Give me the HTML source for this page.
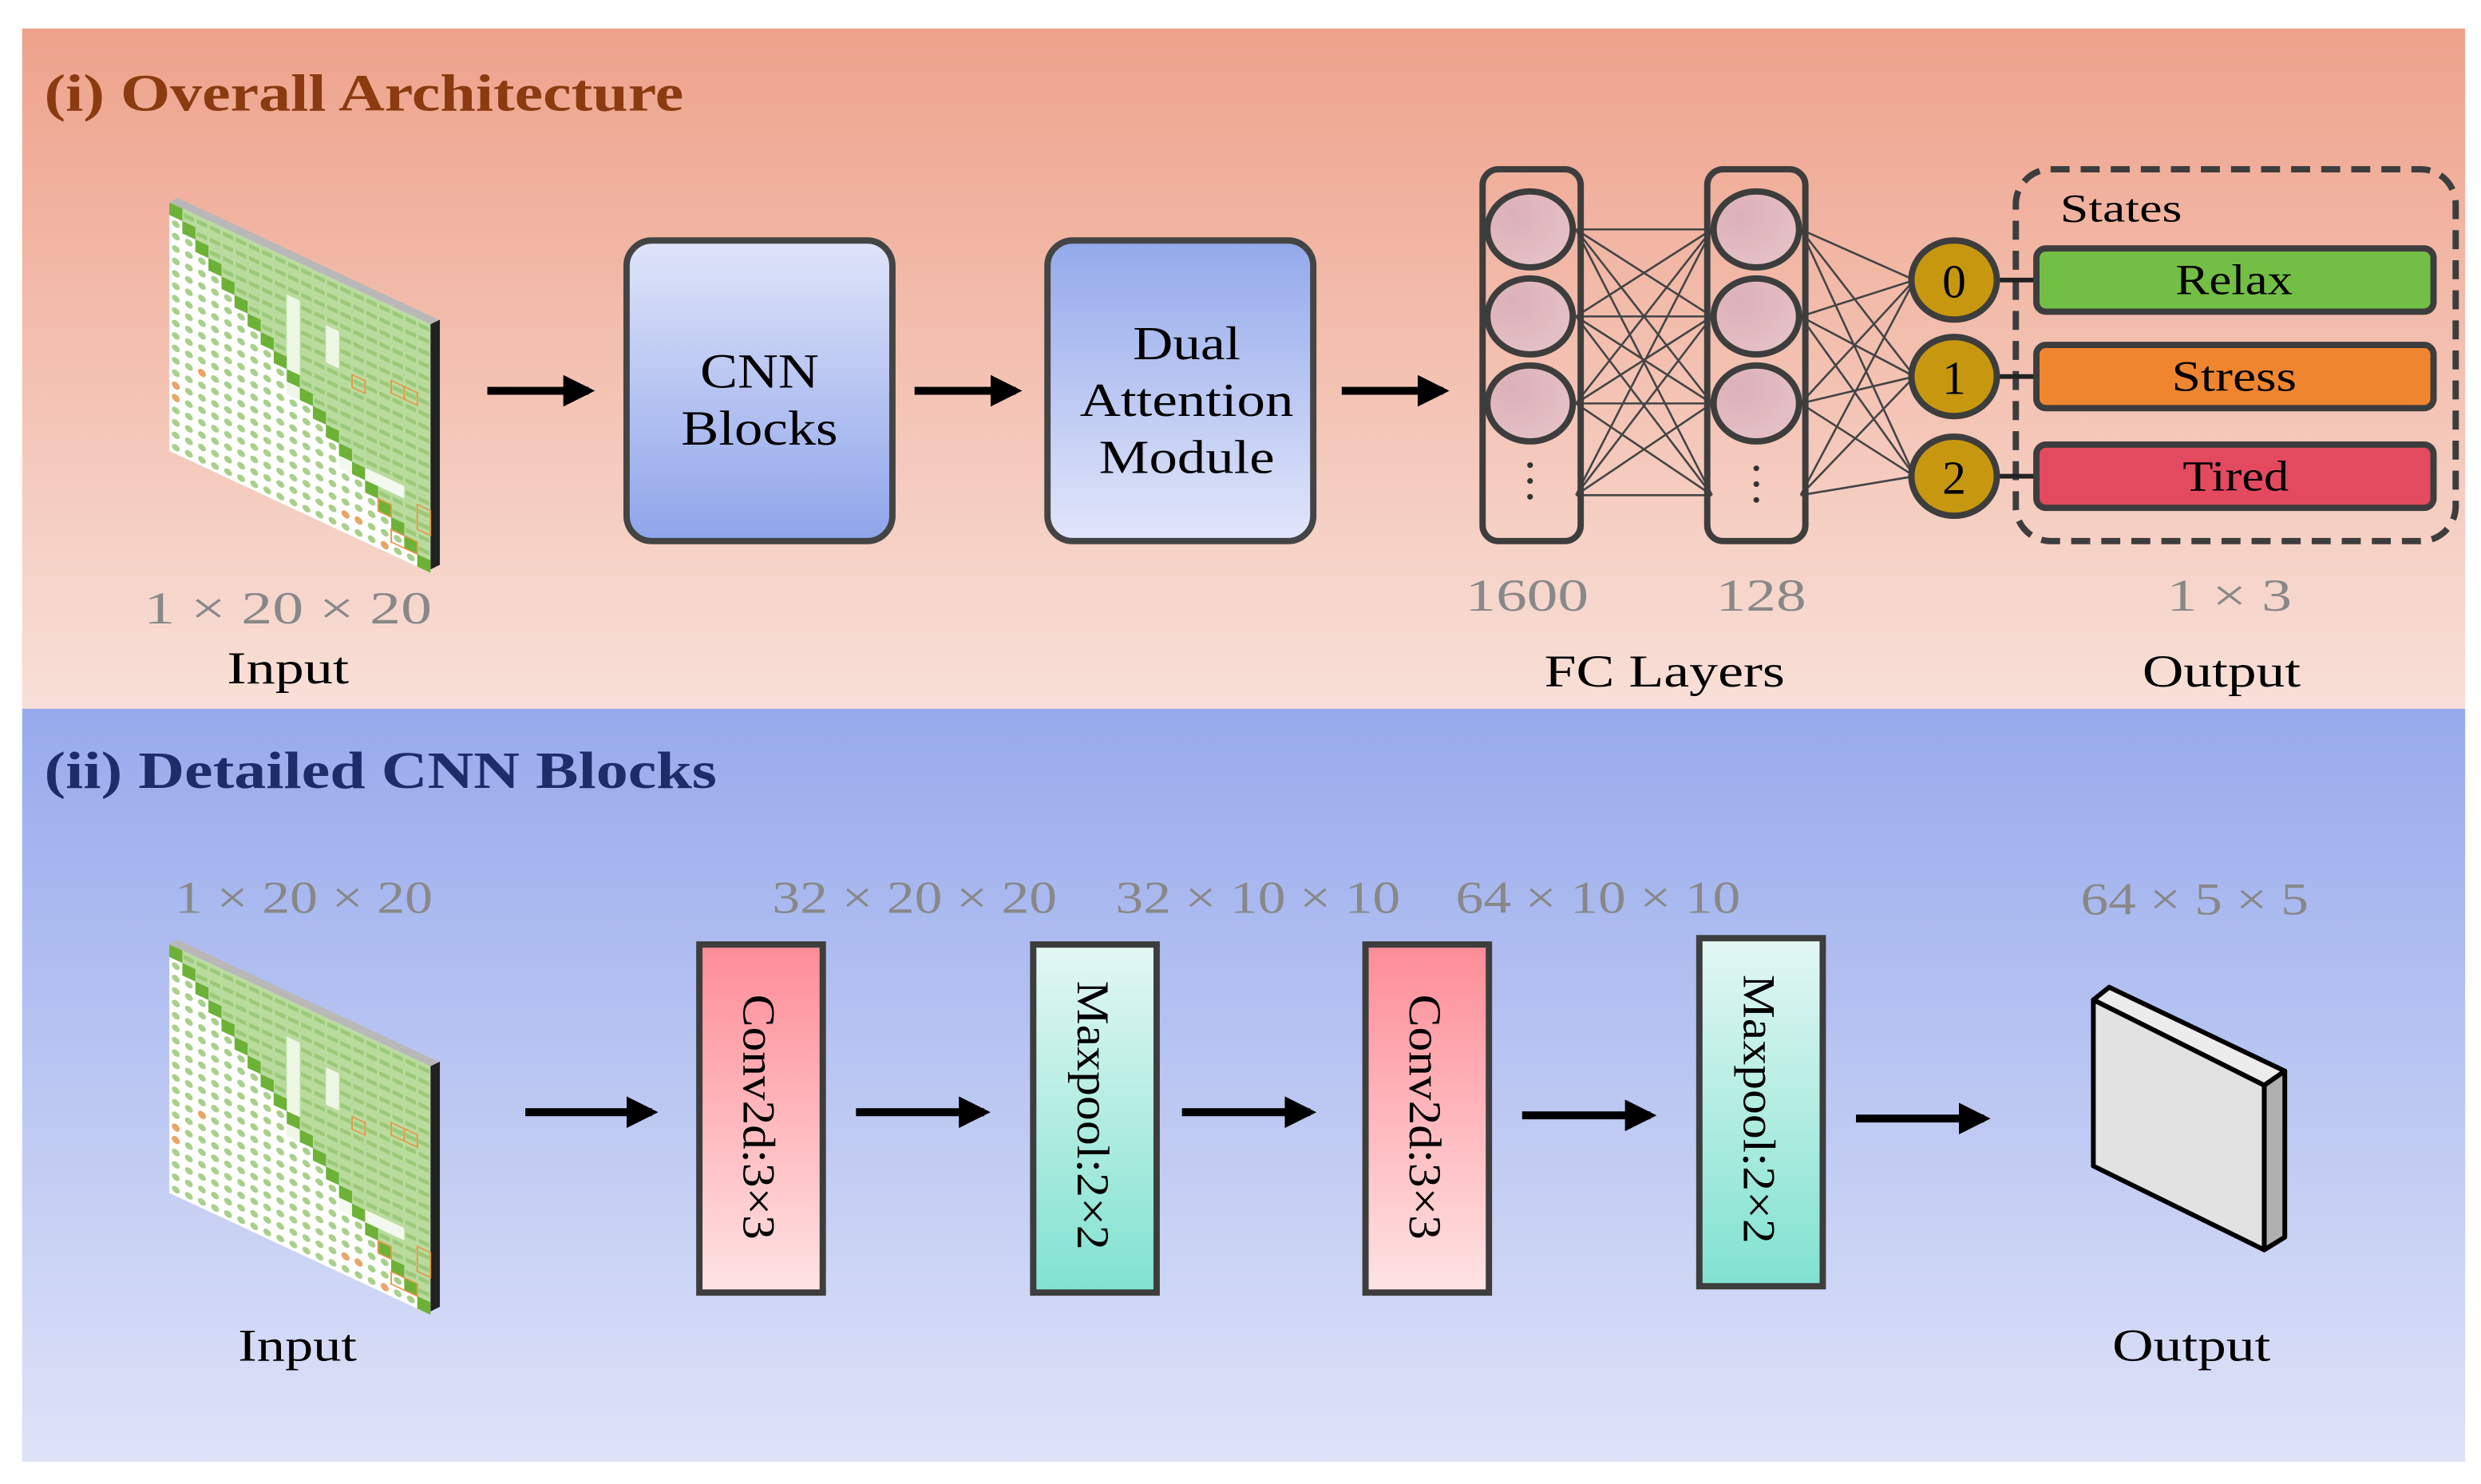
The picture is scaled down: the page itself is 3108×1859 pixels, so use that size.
<!DOCTYPE html>
<html><head><meta charset="utf-8"><style>html,body{margin:0;padding:0;background:#fff}svg{display:block}</style></head>
<body>
<svg width="3108" height="1859" viewBox="0 0 1568 938" preserveAspectRatio="none" xmlns="http://www.w3.org/2000/svg" font-family="'Liberation Serif', serif">
<defs>
<linearGradient id="gTop" x1="0" y1="0" x2="0" y2="1"><stop offset="0" stop-color="#eea28b"/><stop offset="1" stop-color="#f8e0d8"/></linearGradient>
<linearGradient id="gBot" x1="0" y1="0" x2="0" y2="1"><stop offset="0" stop-color="#97aaec"/><stop offset="1" stop-color="#dfe3f8"/></linearGradient>
<linearGradient id="gCnn" x1="0" y1="0" x2="0" y2="1"><stop offset="0" stop-color="#dfe4f9"/><stop offset="1" stop-color="#8fa5ea"/></linearGradient>
<linearGradient id="gDual" x1="0" y1="0" x2="0" y2="1"><stop offset="0" stop-color="#93a9ea"/><stop offset="1" stop-color="#e2e6fa"/></linearGradient>
<linearGradient id="gConv" x1="0" y1="0" x2="0" y2="1"><stop offset="0" stop-color="#fd8c96"/><stop offset="1" stop-color="#fee4e4"/></linearGradient>
<linearGradient id="gPool" x1="0" y1="0" x2="0" y2="1"><stop offset="0" stop-color="#e3f7f3"/><stop offset="1" stop-color="#80e2d0"/></linearGradient>
<radialGradient id="gNode" cx="0.3" cy="0.3" r="0.9"><stop offset="0" stop-color="#dcb0b8"/><stop offset="1" stop-color="#e6c4c8"/></radialGradient>
<pattern id="dots" width="1" height="1" patternUnits="userSpaceOnUse"><rect width="1" height="1" fill="#fff"/><ellipse cx="0.5" cy="0.5" rx="0.3" ry="0.27" fill="#a8d08a"/></pattern>
<pattern id="cells" width="1" height="1" patternUnits="userSpaceOnUse"><rect width="1" height="1" fill="#b9dc9e"/><rect x="0.1" y="0.3" width="0.8" height="0.35" fill="#8fc16a" opacity="0.7"/></pattern>
<g id="mat">
 <polygon points="0,0 165,77 170,74 5,-3" fill="#b8b8b8"/>
 <polygon points="165,77 171,74 171,229 165,232" fill="#222"/>
 <g transform="matrix(8.25,3.85,0,7.85,0,0)">
  <rect width="20" height="20" fill="url(#dots)"/>
  <polygon points="0,0 20,0 20,20 19,20 19,19 18,19 18,18 17,18 17,17 16,17 16,16 15,16 15,15 14,15 14,14 13,14 13,13 12,13 12,12 11,12 11,11 10,11 10,10 9,10 9,9 8,9 8,8 7,8 7,7 6,7 6,6 5,6 5,5 4,5 4,4 3,4 3,3 2,3 2,2 1,2 1,1 0,1" fill="url(#cells)"/>
  <rect x="9" y="3" width="1" height="8" fill="#eef6e6"/>
  <rect x="12" y="4" width="1" height="3" fill="#eef6e6"/>
  <rect x="13" y="14" width="5" height="1" fill="#f3f9ee"/>
  <g fill="#6db237">
   <rect x="0" y="0" width="1" height="1"/><rect x="1" y="1" width="1" height="1"/><rect x="2" y="2" width="1" height="1"/><rect x="3" y="3" width="1" height="1"/><rect x="4" y="4" width="1" height="1"/><rect x="5" y="5" width="1" height="1"/><rect x="6" y="6" width="1" height="1"/><rect x="7" y="7" width="1" height="1"/><rect x="8" y="8" width="1" height="1"/><rect x="9" y="9" width="1" height="1"/><rect x="10" y="10" width="1" height="1"/><rect x="11" y="11" width="1" height="1"/><rect x="12" y="12" width="1" height="1"/><rect x="13" y="13" width="1" height="1"/><rect x="14" y="14" width="1" height="1"/><rect x="15" y="15" width="1" height="1"/><rect x="16" y="16" width="1" height="1"/><rect x="17" y="17" width="1" height="1"/><rect x="18" y="18" width="1" height="1"/><rect x="19" y="19" width="1" height="1"/>
  </g>
  <g fill="none" stroke="#e59a4a" stroke-width="0.12">
   <rect x="14" y="7" width="1" height="1"/><rect x="17" y="6" width="1" height="1"/><rect x="18" y="6" width="1" height="1"/><rect x="16" y="16" width="1" height="1"/><rect x="19" y="15" width="1" height="2"/><rect x="17" y="18" width="2" height="1"/>
  </g>
  <g fill="#eaa566"><circle cx="0.5" cy="14.5" r="0.3"/><circle cx="0.5" cy="15.5" r="0.3"/><circle cx="2.5" cy="12.5" r="0.3"/><circle cx="13.5" cy="18.5" r="0.3"/><circle cx="14.5" cy="18.5" r="0.3"/><circle cx="16.5" cy="19.5" r="0.3"/></g>
 </g>
</g>
<marker id="ah" markerWidth="4" markerHeight="4" refX="3.2" refY="2" orient="auto" markerUnits="strokeWidth"><path d="M0,0 L4,2 L0,4 Z" fill="#000"/></marker>
</defs>

<rect x="14" y="18" width="1544" height="430" fill="url(#gTop)"/>
<rect x="14" y="448" width="1544" height="476" fill="url(#gBot)"/>

<text x="28" y="70" font-size="33" font-weight="bold" fill="#8a3b10" textLength="404" lengthAdjust="spacingAndGlyphs">(i) Overall Architecture</text>
<text x="28" y="498" font-size="33" font-weight="bold" fill="#1c2d6a" textLength="425" lengthAdjust="spacingAndGlyphs">(ii) Detailed CNN Blocks</text>

<use href="#mat" x="107" y="128"/>
<use href="#mat" x="107" y="597"/>

<g font-size="29" fill="#888" text-anchor="middle" lengthAdjust="spacingAndGlyphs">
<text x="182" y="394" textLength="182" lengthAdjust="spacingAndGlyphs">1 × 20 × 20</text>
<text x="965" y="386" textLength="78" lengthAdjust="spacingAndGlyphs">1600</text>
<text x="1113" y="386" textLength="57" lengthAdjust="spacingAndGlyphs">128</text>
<text x="1409" y="386" textLength="79" lengthAdjust="spacingAndGlyphs">1 × 3</text>
<text x="192" y="577" textLength="163" lengthAdjust="spacingAndGlyphs">1 × 20 × 20</text>
<text x="578" y="577" textLength="180" lengthAdjust="spacingAndGlyphs">32 × 20 × 20</text>
<text x="795" y="577" textLength="180" lengthAdjust="spacingAndGlyphs">32 × 10 × 10</text>
<text x="1010" y="577" textLength="180" lengthAdjust="spacingAndGlyphs">64 × 10 × 10</text>
<text x="1387" y="578" textLength="144" lengthAdjust="spacingAndGlyphs">64 × 5 × 5</text>
</g>
<g font-size="29" fill="#000" text-anchor="middle">
<text x="182" y="432" textLength="77" lengthAdjust="spacingAndGlyphs">Input</text>
<text x="1052" y="434" textLength="152" lengthAdjust="spacingAndGlyphs">FC Layers</text>
<text x="1404" y="434" textLength="100" lengthAdjust="spacingAndGlyphs">Output</text>
<text x="188" y="860" textLength="75" lengthAdjust="spacingAndGlyphs">Input</text>
<text x="1385" y="860" textLength="100" lengthAdjust="spacingAndGlyphs">Output</text>
</g>

<g stroke="#000" stroke-width="5" marker-end="url(#ah)">
<line x1="308" y1="247" x2="372" y2="247"/>
<line x1="578" y1="247" x2="642" y2="247"/>
<line x1="848" y1="247" x2="912" y2="247"/>
<line x1="332" y1="703" x2="412" y2="703"/>
<line x1="541" y1="703" x2="622" y2="703"/>
<line x1="747" y1="703" x2="828" y2="703"/>
<line x1="962" y1="705" x2="1043" y2="705"/>
<line x1="1173" y1="707" x2="1254" y2="707"/>
</g>

<rect x="396" y="152" width="168" height="190" rx="16" fill="url(#gCnn)" stroke="#444" stroke-width="4"/>
<text x="480" y="245" font-size="31" text-anchor="middle" textLength="75" lengthAdjust="spacingAndGlyphs">CNN</text>
<text x="480" y="281" font-size="31" text-anchor="middle" textLength="99" lengthAdjust="spacingAndGlyphs">Blocks</text>
<rect x="662" y="152" width="168" height="190" rx="16" fill="url(#gDual)" stroke="#444" stroke-width="4"/>
<g font-size="30" text-anchor="middle"><text x="750" y="227" textLength="68" lengthAdjust="spacingAndGlyphs">Dual</text><text x="750" y="263" textLength="135" lengthAdjust="spacingAndGlyphs">Attention</text><text x="750" y="299" textLength="111" lengthAdjust="spacingAndGlyphs">Module</text></g>

<g stroke="#444" stroke-width="1.3">
<path d="M996,145L1082,145M996,145L1082,200M996,145L1082,255M996,145L1082,313M996,200L1082,145M996,200L1082,200M996,200L1082,255M996,200L1082,313M996,255L1082,145M996,255L1082,200M996,255L1082,255M996,255L1082,313M996,313L1082,145M996,313L1082,200M996,313L1082,255M996,313L1082,313"/>
<path d="M1138,145L1210,177M1138,145L1210,238M1138,145L1210,301M1138,200L1210,177M1138,200L1210,238M1138,200L1210,301M1138,255L1210,177M1138,255L1210,238M1138,255L1210,301M1138,313L1210,177M1138,313L1210,238M1138,313L1210,301"/>
</g>
<g fill="none" stroke="#3d3d3d" stroke-width="4">
<rect x="937" y="107" width="62" height="235" rx="10"/>
<rect x="1079" y="107" width="62" height="235" rx="10"/>
</g>
<g fill="url(#gNode)" stroke="#3d3d3d" stroke-width="4">
<ellipse cx="967" cy="145" rx="27" ry="24"/><ellipse cx="967" cy="200" rx="27" ry="24"/><ellipse cx="967" cy="255" rx="27" ry="24"/>
<ellipse cx="1110" cy="145" rx="27" ry="24"/><ellipse cx="1110" cy="200" rx="27" ry="24"/><ellipse cx="1110" cy="255" rx="27" ry="24"/>
</g>
<g fill="#333"><circle cx="967" cy="294" r="1.8"/><circle cx="967" cy="304" r="1.8"/><circle cx="967" cy="314" r="1.8"/><circle cx="1110" cy="296" r="1.8"/><circle cx="1110" cy="306" r="1.8"/><circle cx="1110" cy="316" r="1.8"/></g>

<rect x="1274" y="107" width="278" height="235" rx="22" fill="none" stroke="#3d3d3d" stroke-width="4" stroke-dasharray="12,7"/>
<text x="1302" y="140" font-size="25" textLength="77" lengthAdjust="spacingAndGlyphs">States</text>
<g stroke="#222" stroke-width="3"><line x1="1262" y1="177" x2="1287" y2="177"/><line x1="1262" y1="238" x2="1287" y2="238"/><line x1="1262" y1="301" x2="1287" y2="301"/></g>
<g stroke="#3d3d3d" stroke-width="4">
<rect x="1287" y="157" width="251" height="40" rx="6" fill="#73be45"/>
<rect x="1287" y="218" width="251" height="40" rx="6" fill="#f08530"/>
<rect x="1287" y="281" width="251" height="40" rx="6" fill="#e34a5f"/>
</g>
<g font-size="27" text-anchor="middle"><text x="1412" y="186" textLength="74" lengthAdjust="spacingAndGlyphs">Relax</text><text x="1412" y="247" textLength="79" lengthAdjust="spacingAndGlyphs">Stress</text><text x="1413" y="310" textLength="67" lengthAdjust="spacingAndGlyphs">Tired</text></g>
<g fill="#c7980f" stroke="#3d3d3d" stroke-width="4">
<ellipse cx="1235" cy="177" rx="27" ry="25"/><ellipse cx="1235" cy="238" rx="27" ry="25"/><ellipse cx="1235" cy="301" rx="27" ry="25"/>
</g>
<g font-size="30" text-anchor="middle"><text x="1235" y="188">0</text><text x="1235" y="249">1</text><text x="1235" y="312">2</text></g>

<g stroke="#3d3d3d" stroke-width="4">
<rect x="442" y="597" width="78" height="220" fill="url(#gConv)"/>
<rect x="653" y="597" width="78" height="220" fill="url(#gPool)"/>
<rect x="863" y="597" width="78" height="220" fill="url(#gConv)"/>
<rect x="1074" y="593" width="78" height="220" fill="url(#gPool)"/>
</g>
<g font-size="29" text-anchor="middle">
<text transform="translate(470,706) rotate(90)" textLength="155" lengthAdjust="spacingAndGlyphs">Conv2d:3×3</text>
<text transform="translate(681,705) rotate(90)" textLength="170" lengthAdjust="spacingAndGlyphs">Maxpool:2×2</text>
<text transform="translate(891,706) rotate(90)" textLength="155" lengthAdjust="spacingAndGlyphs">Conv2d:3×3</text>
<text transform="translate(1102,701) rotate(90)" textLength="170" lengthAdjust="spacingAndGlyphs">Maxpool:2×2</text>
</g>

<g stroke="#000" stroke-width="3" stroke-linejoin="round">
<polygon points="1323,632 1333,624 1444,677 1431,686" fill="#ececec"/>
<polygon points="1431,686 1444,677 1444,782 1431,790" fill="#b0b0b0"/>
<polygon points="1323,632 1431,686 1431,790 1323,737" fill="#e2e2e2"/>
</g>
</svg>
</body></html>
